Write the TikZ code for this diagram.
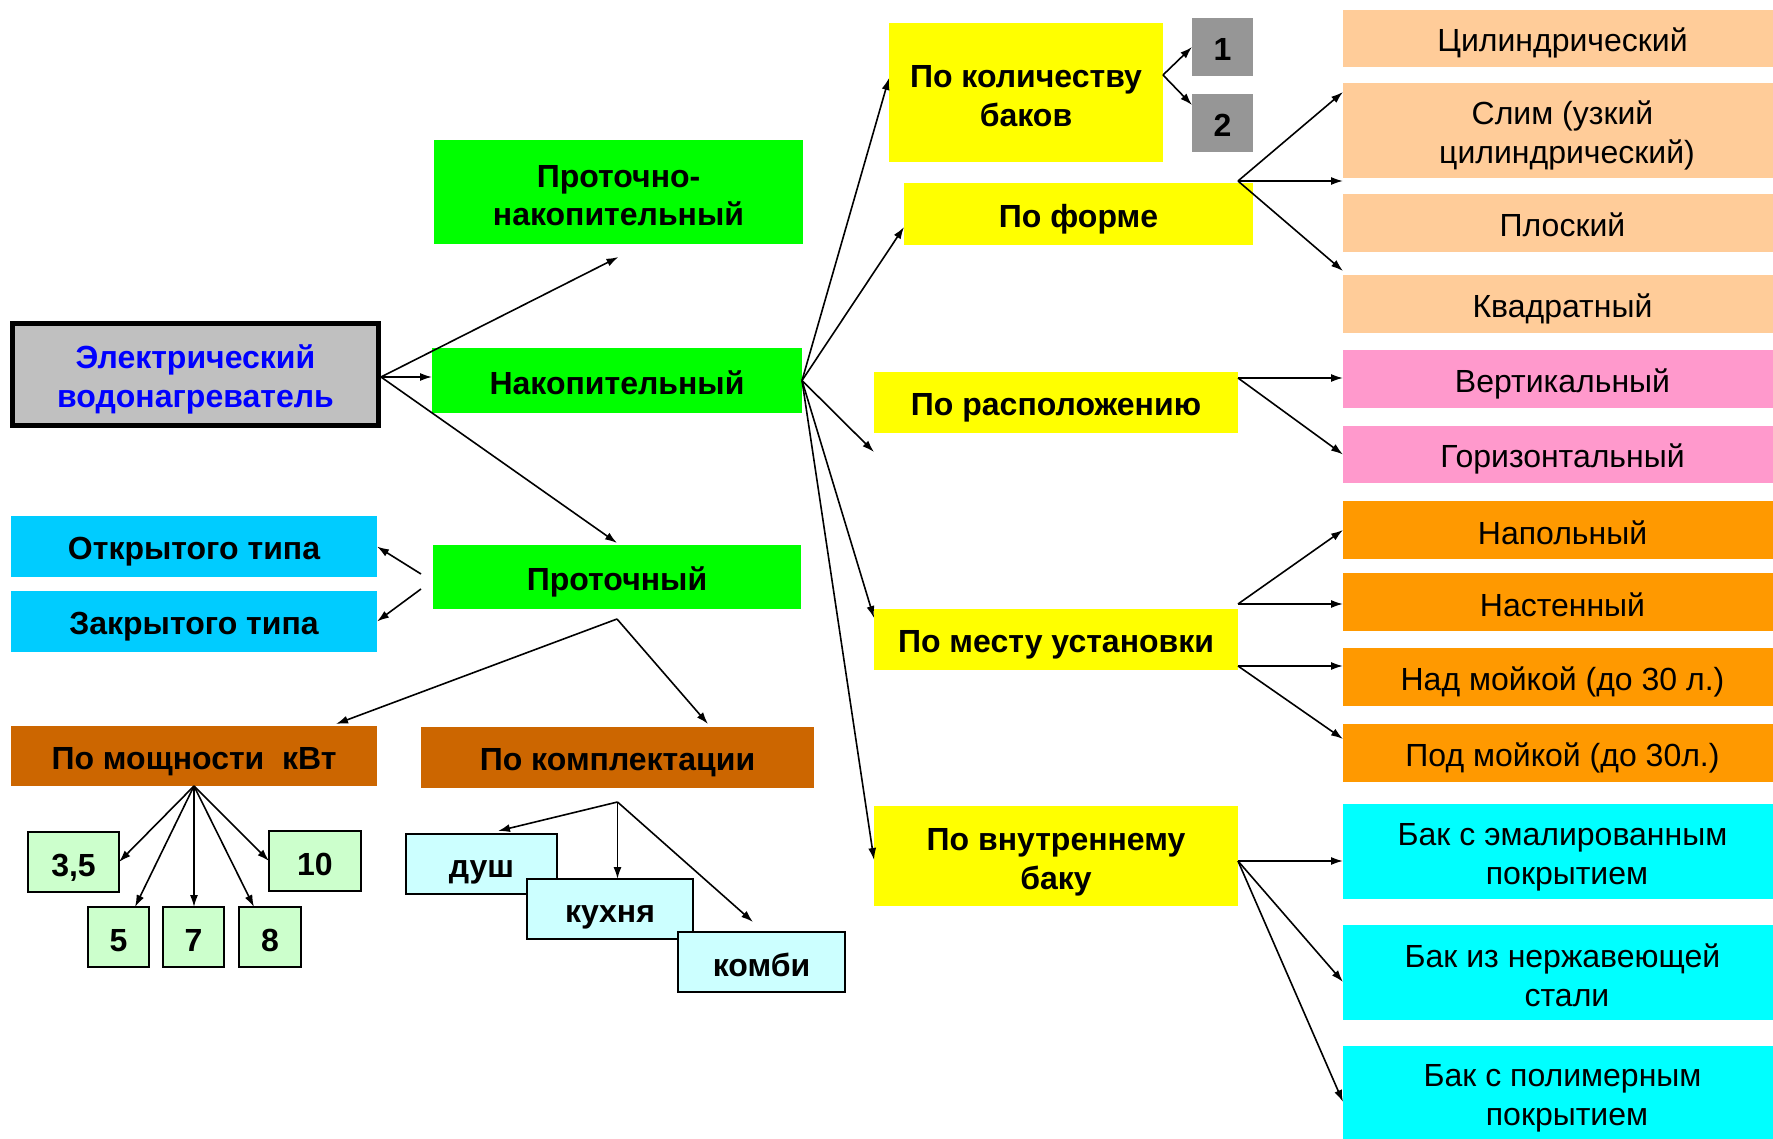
\documentclass[tikz,border=0pt]{standalone}
\usepackage{fontspec}
\setmainfont{Liberation Sans}
\usetikzlibrary{arrows.meta}
\definecolor{cgreen}{HTML}{00FF00}
\definecolor{cyellow}{HTML}{FFFF00}
\definecolor{cgray}{HTML}{C0C0C0}
\definecolor{cdgray}{HTML}{969696}
\definecolor{cblue}{HTML}{00CCFF}
\definecolor{cbrown}{HTML}{CC6600}
\definecolor{cpeach}{HTML}{FFCC99}
\definecolor{cpink}{HTML}{FF99CC}
\definecolor{corange}{HTML}{FF9900}
\definecolor{ccyan}{HTML}{00FFFF}
\definecolor{clgreen}{HTML}{CCFFCC}
\definecolor{clcyan}{HTML}{CCFFFF}
\definecolor{tblue}{HTML}{0000FF}
\newcommand\mybold{\fontsize{32}{37}\selectfont\bfseries}
\newcommand\myreg{\fontsize{32}{37}\selectfont}
\newcommand\mystrut{\rule[-5pt]{0pt}{38pt}}
\newcommand\mystrutA{\rule[-5pt]{0pt}{39pt}}
\newcommand\mystrutB{\rule[-5pt]{0pt}{36pt}}
\newcommand\rs{\mystrut\hspace*{9pt}}
\newcommand\rsb{\mystrutB\hspace*{9pt}}
\begin{document}
\begin{tikzpicture}[x=1pt,y=-1pt,
  bx/.style={rectangle, inner sep=0pt, outer sep=0pt, align=center, anchor=north west, font=\mybold, execute at begin node=\mystrut},
  rbx/.style={rectangle, inner sep=0pt, outer sep=0pt, align=center, anchor=north west, font=\myreg, minimum width=430pt, execute at begin node=\rs},
  lbx/.style={bx, draw=black, line width=2pt},
  arr/.style={-{Latex[length=12pt,width=8pt]}, line width=1.6pt}]
\useasboundingbox (0,0) rectangle (1773,1139);
\fill[white] (0,0) rectangle (1773,1139);

% main
\node[bx, draw=black, line width=5pt, fill=cgray, text=tblue, minimum width=366pt, minimum height=102pt] (main) at (12.5,323.5) {\mystrutA Электрический\\\mystrutB водонагреватель};

% green
\node[bx, fill=cgreen, minimum width=369pt, minimum height=104pt] (pn) at (434,140) {\mystrutA Проточно-\\\mystrutB накопительный};
\node[bx, fill=cgreen, minimum width=370pt, minimum height=65pt] (nak) at (432,348) {Накопительный};
\node[bx, fill=cgreen, minimum width=368pt, minimum height=64pt] (pro) at (433,545) {Проточный};

% left
\node[bx, fill=cblue, minimum width=366pt, minimum height=61pt] (otk) at (11,516) {Открытого типа};
\node[bx, fill=cblue, minimum width=366pt, minimum height=61pt] (zak) at (11,591) {Закрытого типа};
\node[bx, fill=cbrown, minimum width=366pt, minimum height=60pt] (mosh) at (11,726) {По мощности\ \ кВт};
\node[bx, fill=cbrown, minimum width=393pt, minimum height=61pt] (kompl) at (421,727) {По комплектации};

\node[lbx, fill=clgreen, minimum width=91pt, minimum height=60pt] (p35) at (28,832) {3,5};
\node[lbx, fill=clgreen, minimum width=92pt, minimum height=60pt] (p10) at (269,831) {10};
\node[lbx, fill=clgreen, minimum width=61pt, minimum height=60pt] (p5) at (88,907) {5};
\node[lbx, fill=clgreen, minimum width=61pt, minimum height=60pt] (p7) at (163,907) {7};
\node[lbx, fill=clgreen, minimum width=62pt, minimum height=60pt] (p8) at (239,907) {8};

\node[lbx, fill=clcyan, minimum width=151pt, minimum height=60pt] (dush) at (406,834) {душ};
\node[lbx, fill=clcyan, minimum width=166pt, minimum height=60pt] (kuh) at (527,879) {кухня};
\node[lbx, fill=clcyan, minimum width=167pt, minimum height=60pt] (kombi) at (678,932) {комби};

% yellow
\node[bx, fill=cyellow, minimum width=274pt, minimum height=139pt] (kol) at (889,23) {\mystrutA По количеству\\\mystrutB баков};
\node[bx, fill=cdgray, minimum width=61pt, minimum height=58pt] (b1) at (1192,18) {1};
\node[bx, fill=cdgray, minimum width=61pt, minimum height=58pt] (b2) at (1192,94) {2};
\node[bx, fill=cyellow, minimum width=349pt, minimum height=62pt] (forma) at (904,183) {По форме};
\node[bx, fill=cyellow, minimum width=364pt, minimum height=61pt] (rasp) at (874,372) {По расположению};
\node[bx, fill=cyellow, minimum width=364pt, minimum height=61pt] (mesto) at (874,609) {По месту установки};
\node[bx, fill=cyellow, minimum width=364pt, minimum height=100pt] (vnutr) at (874,806) {\mystrutA По внутреннему\\\mystrutB баку};

% right column
\node[rbx, fill=cpeach, minimum height=57pt] (cyl) at (1343,10) {Цилиндрический};
\node[rbx, fill=cpeach, minimum height=95pt] (slim) at (1343,83) {\mystrutA Слим (узкий\\\rsb цилиндрический)};
\node[rbx, fill=cpeach, minimum height=58pt] (flat) at (1343,194) {Плоский};
\node[rbx, fill=cpeach, minimum height=58pt] (sq) at (1343,275) {Квадратный};
\node[rbx, fill=cpink, minimum height=58pt] (vert) at (1343,350) {Вертикальный};
\node[rbx, fill=cpink, minimum height=57pt] (hor) at (1343,426) {Горизонтальный};
\node[rbx, fill=corange, minimum height=58pt] (floor) at (1343,501) {Напольный};
\node[rbx, fill=corange, minimum height=58pt] (wall) at (1343,573) {Настенный};
\node[rbx, fill=corange, minimum height=58pt] (above) at (1343,648) {Над мойкой (до 30 л.)};
\node[rbx, fill=corange, minimum height=58pt] (under) at (1343,724) {Под мойкой (до 30л.)};
\node[rbx, fill=ccyan, minimum height=95pt] (enamel) at (1343,804) {\mystrutA Бак с эмалированным\\\rsb покрытием};
\node[rbx, fill=ccyan, minimum height=95pt] (steel) at (1343,925) {\mystrutA Бак из нержавеющей\\\rsb стали};
\node[rbx, fill=ccyan, minimum height=93pt] (poly) at (1343,1046) {\mystrutA Бак с полимерным\\\rsb покрытием};

% fan points
\coordinate (mainO) at ([xshift=2.5pt,yshift=-2.5pt]main.east);
\coordinate (nakO) at (nak.east);
\coordinate (proL1) at ([xshift=-12pt,yshift=3pt]pro.west);
\coordinate (proL2) at ([xshift=-12pt,yshift=-12pt]pro.west);
\coordinate (proS) at ([yshift=-10pt]pro.south);
\coordinate (moshS) at (mosh.south);
\coordinate (komplS) at ([yshift=-14pt]kompl.south);
\coordinate (kolO) at ([yshift=17.5pt]kol.east);
\coordinate (formaO) at ([xshift=-15pt,yshift=2pt]forma.north east);
\coordinate (raspO) at ([yshift=-6pt]rasp.north east);
\coordinate (mestoO1) at ([yshift=5pt]mesto.north east);
\coordinate (mestoO2) at ([yshift=4pt]mesto.south east);
\coordinate (vnutrO) at ([yshift=-5pt]vnutr.east);

% connectors from main
\draw[arr] (mainO) -- (mainO -| nak.west);
\draw[arr] (mainO) -- ([yshift=-13pt]pn.south);
\draw[arr] (mainO) -- ([yshift=2pt]pro.north);

% Проточный
\draw[arr] (proL1) -- (otk.east);
\draw[arr] (proL2) -- (zak.east);
\draw[arr] (proS) -- ([xshift=-41pt,yshift=2pt]mosh.north east);
\draw[arr] (proS) -- ([xshift=90.5pt,yshift=3pt]kompl.north);

% power
\draw[arr] (moshS) -- (p35.east);
\draw[arr] (moshS) -- ([xshift=16.5pt]p5.north);
\draw[arr] (moshS) -- (moshS |- p7.north);
\draw[arr] (moshS) -- ([xshift=-16pt]p8.north);
\draw[arr] (moshS) -- (p10.west);

% комплектация
\draw[arr] (komplS) -- ([xshift=16.5pt,yshift=3pt]dush.north);
\draw[arr] (komplS) -- (komplS |- kuh.north);
\draw[arr] (komplS) -- ([xshift=-8.5pt,yshift=10pt]kombi.north);

% Накопительный
\draw[arr] (nakO) -- ([yshift=14.5pt]kol.west);
\draw[arr] (nakO) -- ([yshift=-13pt]forma.west);
\draw[arr] (nakO) -- ([yshift=-19pt]rasp.south west);
\draw[arr] (nakO) -- ([yshift=-9pt]mesto.north west);
\draw[arr] (nakO) -- ([yshift=-4pt]vnutr.west);

% баки
\draw[arr] (kolO) -- (b1.west);
\draw[arr] (kolO) -- ([yshift=18pt]b2.west);

% форма
\draw[arr] (formaO) -- ([yshift=-9pt]slim.north west);
\draw[arr] (formaO) -- (formaO -| slim.west);
\draw[arr] (formaO) -- ([yshift=4pt]sq.north west);

% расположение
\draw[arr] (raspO) -- (raspO -| vert.west);
\draw[arr] (raspO) -- (hor.west);

% место
\draw[arr] (mestoO1) -- (floor.west);
\draw[arr] (mestoO1) -- (mestoO1 -| wall.west);
\draw[arr] (mestoO2) -- (mestoO2 -| above.west);
\draw[arr] (mestoO2) -- ([yshift=14pt]under.west);

% внутренний бак
\draw[arr] (vnutrO) -- (vnutrO -| enamel.west);
\draw[arr] (vnutrO) -- ([yshift=-9.5pt]steel.west);
\draw[arr] (vnutrO) -- ([yshift=-9.5pt]poly.west);
\end{tikzpicture}
\end{document}
